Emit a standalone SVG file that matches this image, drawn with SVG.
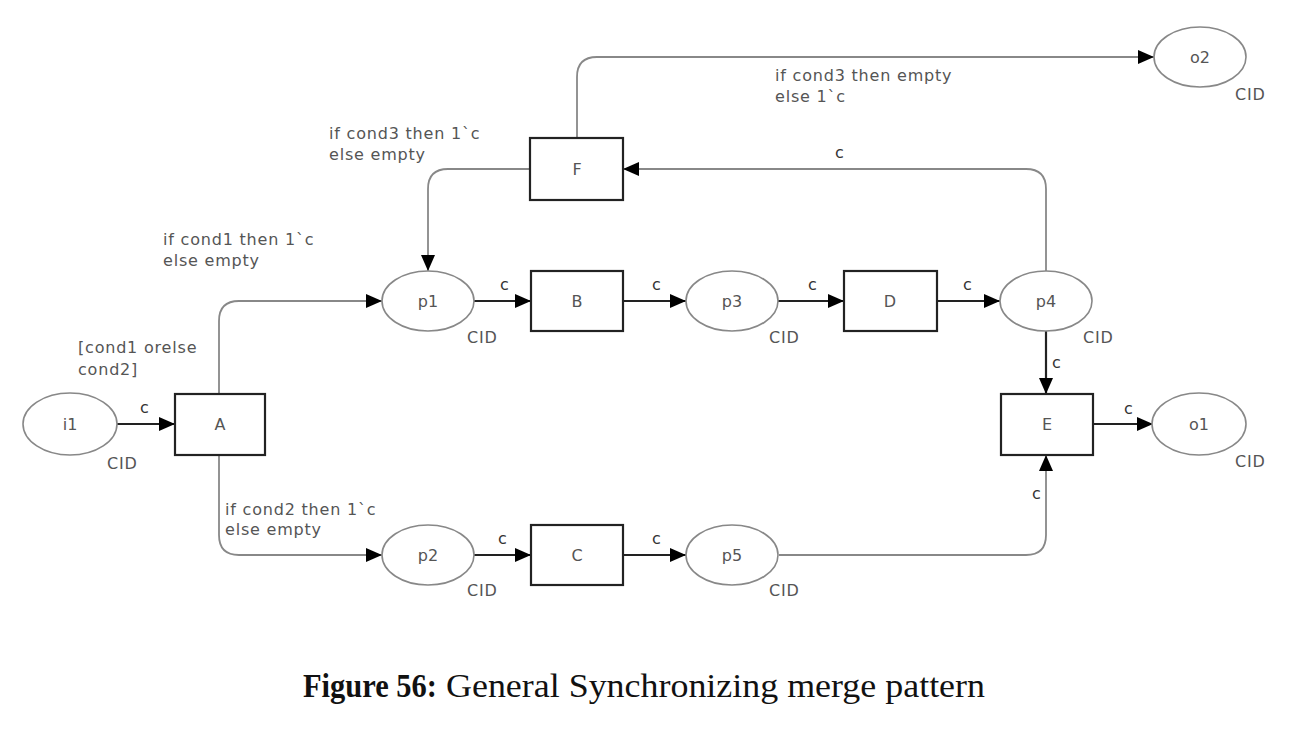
<svg xmlns="http://www.w3.org/2000/svg" width="1308" height="744" viewBox="0 0 1308 744">
<defs>
<style>
.pl{fill:#fff;stroke:#888;stroke-width:1.6}
.tr{fill:#fff;stroke:#222;stroke-width:2.2}
.nl{font-family:"DejaVu Sans",Verdana,sans-serif;font-size:16px;fill:#555;text-anchor:middle}
.t{font-family:"DejaVu Sans",Verdana,sans-serif;font-size:16px;fill:#555;letter-spacing:0.8px}
.c{font-family:"DejaVu Sans",Verdana,sans-serif;font-size:16px;fill:#333}
.g{fill:none;stroke:#888;stroke-width:1.8}
.k{fill:none;stroke:#222;stroke-width:2.2}
.cap{font-family:"Liberation Serif","Times New Roman",serif;font-size:33px;fill:#111}
</style>
<marker id="ah" markerUnits="userSpaceOnUse" markerWidth="16" markerHeight="14" refX="16" refY="7" orient="auto">
<path d="M0,0 L16,7 L0,14 z" fill="#000"/>
</marker>
</defs>
<rect width="1308" height="744" fill="#fff"/>
<g id="connectors">
<path class="g" d="M219,394 V321 Q219,301 239,301 H382" marker-end="url(#ah)"/>
<path class="g" d="M219,455 V535 Q219,555 239,555 H382" marker-end="url(#ah)"/>
<path class="g" d="M779,555 H1026 Q1046,555 1046,535 V455" marker-end="url(#ah)"/>
<path class="g" d="M1046,271 V189 Q1046,169 1026,169 H623" marker-end="url(#ah)"/>
<path class="g" d="M530,169 H448 Q428,169 428,189 V271" marker-end="url(#ah)"/>
<path class="g" d="M577,138 V77 Q577,57 597,57 H1154" marker-end="url(#ah)"/>
<path class="k" d="M117,424 H175" marker-end="url(#ah)"/>
<path class="k" d="M474,301 H531" marker-end="url(#ah)"/>
<path class="k" d="M623,301 H686" marker-end="url(#ah)"/>
<path class="k" d="M778,301 H844" marker-end="url(#ah)"/>
<path class="k" d="M937,301 H1000" marker-end="url(#ah)"/>
<path class="k" d="M1046,331 V394" marker-end="url(#ah)"/>
<path class="k" d="M1093,424 H1153" marker-end="url(#ah)"/>
<path class="k" d="M474,555 H531" marker-end="url(#ah)"/>
<path class="k" d="M623,555 H686" marker-end="url(#ah)"/>
<text class="c" x="140" y="413">c</text>
<text class="c" x="500" y="290">c</text>
<text class="c" x="652" y="290">c</text>
<text class="c" x="808" y="290">c</text>
<text class="c" x="963" y="290">c</text>
<text class="c" x="1052" y="368">c</text>
<text class="c" x="1124" y="414">c</text>
<text class="c" x="498" y="544">c</text>
<text class="c" x="652" y="544">c</text>
<text class="c" x="1032" y="499">c</text>
<text class="c" x="835" y="158">c</text>
<text class="t" x="775" y="81">if cond3 then empty</text>
<text class="t" x="775" y="102">else 1`c</text>
<text class="t" x="329" y="139">if cond3 then 1`c</text>
<text class="t" x="329" y="160">else empty</text>
<text class="t" x="163" y="245">if cond1 then 1`c</text>
<text class="t" x="163" y="266">else empty</text>
<text class="t" x="225" y="515">if cond2 then 1`c</text>
<text class="t" x="225" y="535">else empty</text>
</g>
<g id="i1"><ellipse class="pl" cx="70" cy="424" rx="47" ry="31"/><text class="nl" x="70" y="430">i1</text><text class="t" x="107" y="469">CID</text></g>
<g id="A"><rect class="tr" x="175" y="394" width="90" height="61"/><text class="nl" x="220" y="430">A</text><text class="t" x="78" y="353">[cond1 orelse</text><text class="t" x="78" y="375">cond2]</text></g>
<g id="p1"><ellipse class="pl" cx="428" cy="301" rx="46" ry="30"/><text class="nl" x="428" y="307">p1</text><text class="t" x="467" y="343">CID</text></g>
<g id="B"><rect class="tr" x="531" y="271" width="92" height="60"/><text class="nl" x="577" y="307">B</text></g>
<g id="p3"><ellipse class="pl" cx="732" cy="301" rx="46" ry="30"/><text class="nl" x="732" y="307">p3</text><text class="t" x="769" y="343">CID</text></g>
<g id="D"><rect class="tr" x="844" y="271" width="93" height="60"/><text class="nl" x="890" y="307">D</text></g>
<g id="p4"><ellipse class="pl" cx="1046" cy="301" rx="46" ry="30"/><text class="nl" x="1046" y="307">p4</text><text class="t" x="1083" y="343">CID</text></g>
<g id="E"><rect class="tr" x="1001" y="394" width="92" height="61"/><text class="nl" x="1047" y="430">E</text></g>
<g id="o1"><ellipse class="pl" cx="1199" cy="424" rx="47" ry="31"/><text class="nl" x="1199" y="430">o1</text><text class="t" x="1235" y="467">CID</text></g>
<g id="F"><rect class="tr" x="530" y="138" width="93" height="62"/><text class="nl" x="577" y="175">F</text></g>
<g id="o2"><ellipse class="pl" cx="1200" cy="57" rx="46" ry="30"/><text class="nl" x="1200" y="63">o2</text><text class="t" x="1235" y="100">CID</text></g>
<g id="p2"><ellipse class="pl" cx="428" cy="555" rx="46" ry="30"/><text class="nl" x="428" y="561">p2</text><text class="t" x="467" y="596">CID</text></g>
<g id="C"><rect class="tr" x="531" y="525" width="92" height="60"/><text class="nl" x="577" y="561">C</text></g>
<g id="p5"><ellipse class="pl" cx="732" cy="555" rx="46" ry="30"/><text class="nl" x="732" y="561">p5</text><text class="t" x="769" y="596">CID</text></g>
<g id="caption">
<text class="cap" x="303" y="697" font-weight="bold" textLength="134" lengthAdjust="spacingAndGlyphs">Figure 56:</text>
<text class="cap" x="446" y="697" textLength="539" lengthAdjust="spacingAndGlyphs">General Synchronizing merge pattern</text>
</g>
</svg>
